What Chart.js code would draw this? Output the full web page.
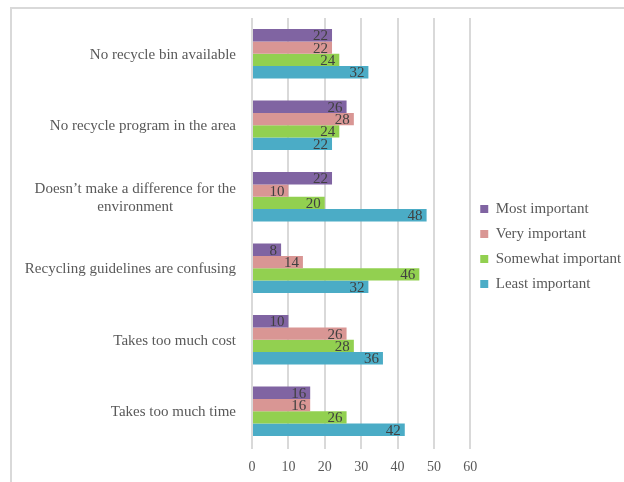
<!DOCTYPE html>
<html>
<head>
<meta charset="utf-8">
<script src="https://cdn.jsdelivr.net/npm/chart.js@4.4.1/dist/chart.umd.min.js"></script>
<style>
  html, body { margin: 0; padding: 0; background: #fff; }
  #wrap { width: 624px; height: 482px; position: relative; }
</style>
</head>
<body>
<div id="wrap"><canvas id="chart"></canvas></div>
<script>
// Reasons for not recycling, ranked by importance
const categories = [
    'No recycle bin available',
    'No recycle program in the area',
    ['Doesn\u2019t make a difference for the', 'environment'],
    'Recycling guidelines are confusing',
    'Takes too much cost',
    'Takes too much time'
];
const mostImportant = [22, 26, 22, 8, 10, 16];
const veryImportant = [22, 28, 10, 14, 26, 16];
const somewhatImportant = [24, 24, 20, 46, 28, 26];
const leastImportant = [32, 22, 48, 32, 36, 42];
const xTicks = [0, 10, 20, 30, 40, 50, 60];

const FONT = "'Liberation Serif', 'Times New Roman', serif";
const TEXT_GRAY = '#595959';

// Light frame around the whole chart (open at right and bottom, like the source)
const framePlugin = {
    id: 'frame',
    beforeDraw(chart) {
        const ctx = chart.ctx;
        ctx.save();
        ctx.strokeStyle = '#d9d9d9';
        ctx.lineWidth = 2;
        ctx.strokeRect(11, 8, chart.width + 20, chart.height + 20);
        ctx.restore();
    }
};

// Category labels: single lines right aligned, wrapped label centred on itself
const categoryLabels = {
    id: 'categoryLabels',
    afterDraw(chart) {
        const ctx = chart.ctx;
        const yScale = chart.scales.y;
        const rightX = chart.chartArea.left - 16;
        ctx.save();
        ctx.font = '15px ' + FONT;
        ctx.fillStyle = TEXT_GRAY;
        ctx.textBaseline = 'middle';
        categories.forEach((label, i) => {
            const y = yScale.getPixelForTick(i) + 1;
            if (Array.isArray(label)) {
                const widths = label.map(l => ctx.measureText(l).width);
                const maxW = Math.max(...widths);
                const cx = rightX - maxW / 2;
                const lh = 18;
                ctx.textAlign = 'center';
                label.forEach((line, j) => {
                    ctx.fillText(line, cx, y + (j - (label.length - 1) / 2) * lh);
                });
            } else {
                ctx.textAlign = 'right';
                ctx.fillText(label, rightX, y);
            }
        });
        ctx.restore();
    }
};

// Value labels at the inside end of each bar
const valueLabels = {
    id: 'valueLabels',
    afterDatasetsDraw(chart) {
        const ctx = chart.ctx;
        ctx.save();
        ctx.font = '15px ' + FONT;
        ctx.fillStyle = '#404040';
        ctx.textAlign = 'right';
        ctx.textBaseline = 'middle';
        chart.data.datasets.forEach((ds, di) => {
            const meta = chart.getDatasetMeta(di);
            meta.data.forEach((bar, i) => {
                ctx.fillText(String(ds.data[i]), bar.x - 4, bar.y + 1);
            });
        });
        ctx.restore();
    }
};

const ctx = document.getElementById('chart');
new Chart(ctx, {
    type: 'bar',
    data: {
        labels: categories,
        datasets: [
            { label: 'Most important', data: mostImportant, backgroundColor: '#8064A2' },
            { label: 'Very important', data: veryImportant, backgroundColor: '#D99694' },
            { label: 'Somewhat important', data: somewhatImportant, backgroundColor: '#92D050' },
            { label: 'Least important', data: leastImportant, backgroundColor: '#4BACC6' }
        ]
    },
    options: {
        indexAxis: 'y',
        responsive: true,
        maintainAspectRatio: false,
        animation: false,
        categoryPercentage: 0.69,
        barPercentage: 1.0,
        layout: {
            padding: { top: 18, right: -3, bottom: 7, left: 0 }
        },
        plugins: {
            legend: {
                position: 'right',
                labels: {
                    font: { family: FONT, size: 15 },
                    color: TEXT_GRAY,
                    boxWidth: 8,
                    boxHeight: 8,
                    padding: 10
                }
            },
            tooltip: { enabled: false }
        },
        scales: {
            x: {
                min: 0,
                max: 60,
                afterBuildTicks: (scale) => {
                    scale.ticks = xTicks.map(v => ({ value: v }));
                },
                grid: {
                    color: '#d9d9d9',
                    lineWidth: 2,
                    drawTicks: true,
                    tickLength: 2
                },
                border: { display: false },
                ticks: {
                    font: { family: FONT, size: 14 },
                    color: TEXT_GRAY,
                    padding: 10
                },
                afterFit: (scale) => { scale.height = 28; }
            },
            y: {
                grid: { display: false },
                border: { display: false },
                ticks: { display: false },
                afterFit: (scale) => { scale.width = 252; }
            }
        }
    },
    plugins: [framePlugin, categoryLabels, valueLabels]
});
</script>
</body>
</html>
